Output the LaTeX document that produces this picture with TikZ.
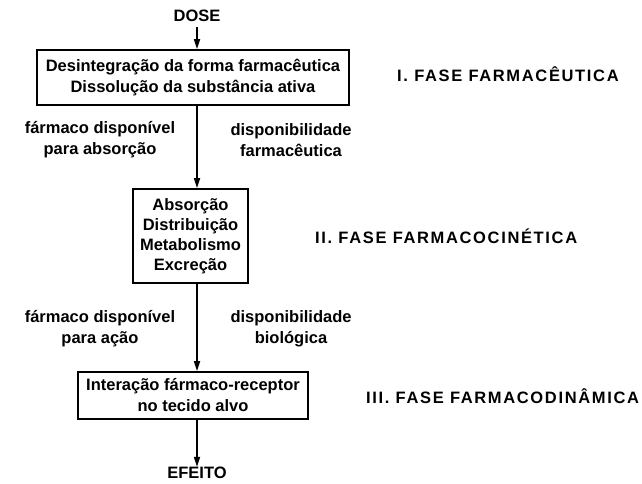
\documentclass[tikz,border=0pt]{standalone}
\usepackage{fontspec}
\setmainfont{Liberation Sans}
\usetikzlibrary{arrows.meta}
\begin{document}
\begin{tikzpicture}[x=1pt,y=-1pt,
  txt/.style={font=\bfseries\fontsize{16.5}{18}\selectfont, inner sep=0pt, align=center},
  side/.style={font=\bfseries\fontsize{16.5}{18}\selectfont, inner sep=0pt, align=center},
  fase/.style={font=\bfseries\fontsize{16.5}{18}\selectfont\addfontfeature{LetterSpace=10}, inner sep=0pt, anchor=west},
  boxa/.style={draw, line width=1.6pt, inner sep=0pt},
  conn/.style={line width=1.6pt, -{Triangle[length=10pt,width=6pt]}}]
\useasboundingbox (0,0) rectangle (642,483);
\node[txt] (dose) at (197,16) {DOSE};
\node[boxa, minimum width=312pt, minimum height=55pt] (b1) at (193,77.5) {};
\node[txt] (b1t) at (b1.center) {Desintegração da forma farmacêutica\\[3pt]Dissolução da substância ativa};
\node[boxa, minimum width=115pt, minimum height=94pt] (b2) at (190.5,236) {};
\node[txt] (b2t) at (b2.center) {Absorção\\[2pt]Distribuição\\[2pt]Metabolismo\\[2pt]Excreção};
\node[boxa, minimum width=230pt, minimum height=47pt] (b3) at (193,395.5) {};
\node[txt] (b3t) at (b3.center) {Interação fármaco-receptor\\[3pt]no tecido alvo};
\node[txt] (efeito) at (197,473) {EFEITO};
\node[fase] (f1) at (397,74) {I. FASE FARMACÊUTICA};
\node[fase] (f2) at (315,236) {II. FASE FARMACOCINÉTICA};
\node[fase] (f3) at (366,396) {III. FASE FARMACODINÂMICA};
\node[side] (l1) at (100,140) {fármaco disponível\\[3pt]para absorção};
\node[side] (r1) at (291,140) {disponibilidade\\[3pt]farmacêutica};
\node[side] (l2) at (100,329) {fármaco disponível\\[3pt]para ação};
\node[side] (r2) at (291,329) {disponibilidade\\[3pt]biológica};
\coordinate (d0) at (197,27);
\draw[conn] (d0) -- (b1.north -| d0);
\draw[conn] (b1.south -| d0) -- (b2.north -| d0);
\draw[conn] (b2.south -| d0) -- (b3.north -| d0);
\draw[conn] (b3.south -| d0) -- (efeito.north);
\end{tikzpicture}
\end{document}
